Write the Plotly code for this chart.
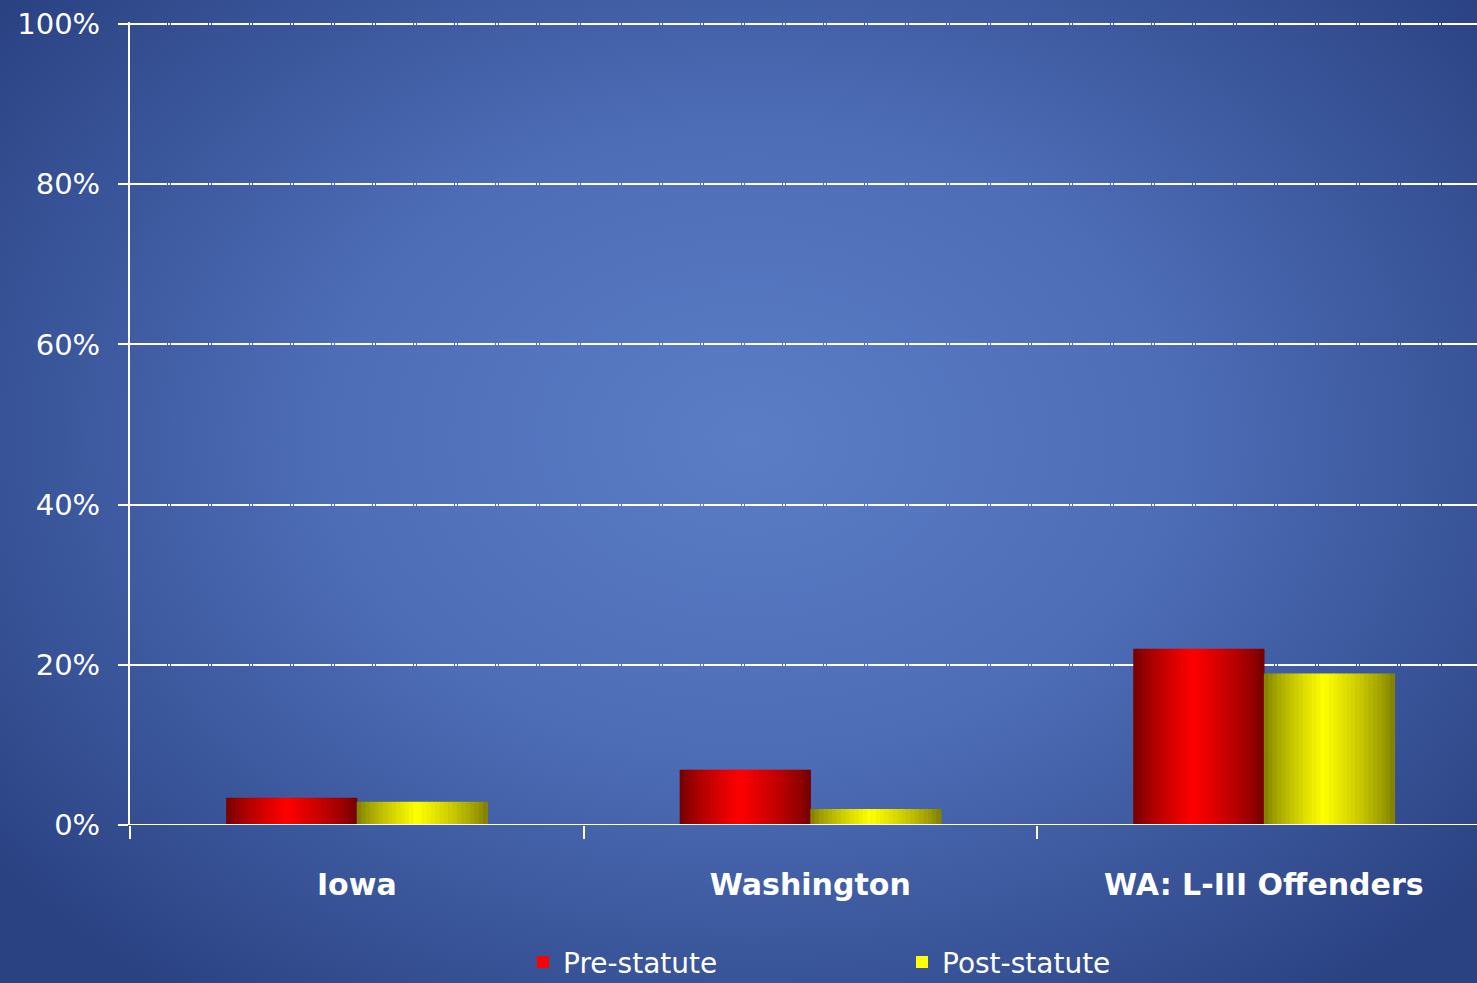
import base64
import plotly.graph_objects as go

# ---- data ----
categories = ["Iowa", "Washington", "WA: L-III Offenders"]
series_names = ["Pre-statute", "Post-statute"]
pre_statute = [0.034, 0.069, 0.220]
post_statute = [0.029, 0.020, 0.189]
y_ticks = [0, 0.2, 0.4, 0.6, 0.8, 1.0]
y_tick_labels = ["0%", "20%", "40%", "60%", "80%", "100%"]

W, H = 1477, 983
ML, MR, MT, MB = 130, 0, 22, 158
FONT = "DejaVu Sans, sans-serif"

def shade(bright, dark, t):
    peak = 0.46
    f = t / peak if t <= peak else (1 - t) / (1 - peak)
    f = f ** 0.75
    return "rgb(%d,%d,%d)" % tuple(int(round(d + (b - d) * f)) for b, d in zip(bright, dark))

palettes = [((255, 0, 0), (110, 0, 0)), ((255, 255, 0), (122, 122, 0))]
values = [pre_statute, post_statute]

bar_w = 0.288
N = 30
fig = go.Figure()
for s in range(2):
    bright, dark = palettes[s]
    start = -bar_w + s * bar_w
    for k in range(N):
        t = (k + 0.5) / N
        fig.add_trace(go.Bar(
            x=categories, y=values[s],
            width=bar_w / N * 1.15, offset=start + k * bar_w / N,
            marker=dict(color=shade(bright, dark, t), line=dict(width=0)),
            showlegend=False, hoverinfo="skip",
        ))
    fig.add_trace(go.Bar(
        x=[None], y=[None], name=series_names[s],
        marker=dict(color="rgb(%d,%d,%d)" % bright, line=dict(width=0)),
        showlegend=True,
    ))

svg = f'''<svg xmlns="http://www.w3.org/2000/svg" width="{W}" height="{H}" viewBox="0 0 {W} {H}">
<defs><radialGradient id="g" gradientUnits="userSpaceOnUse" cx="0" cy="0" r="1" gradientTransform="matrix(950 0 0 700 750 440)">
<stop offset="0" stop-color="#5b7dc6"/>
<stop offset="0.45" stop-color="#4d6db7"/>
<stop offset="1" stop-color="#2a4282"/>
</radialGradient></defs>
<rect width="{W}" height="{H}" fill="url(#g)"/></svg>'''
uri = "data:image/svg+xml;base64," + base64.b64encode(svg.encode()).decode()

pw, ph = W - ML - MR, H - MT - MB
fig.add_layout_image(dict(
    source=uri, xref="paper", yref="paper",
    x=-ML / pw, y=1 + MT / ph, sizex=W / pw, sizey=H / ph,
    xanchor="left", yanchor="top", sizing="stretch", layer="below",
))

fig.update_layout(
    width=W, height=H,
    margin=dict(l=ML, r=MR, t=MT, b=MB, pad=0, autoexpand=False),
    paper_bgcolor="#2a4282", plot_bgcolor="rgba(0,0,0,0)",
    barmode="overlay",
    font=dict(family=FONT, color="white"),
    showlegend=True,
    legend=dict(
        orientation="h", x=(523 - ML) / pw, xanchor="left", y=-0.171, yanchor="middle",
        font=dict(size=28, color="white", family=FONT),
        bgcolor="rgba(0,0,0,0)", entrywidth=334, itemwidth=30,
    ),
    xaxis=dict(
        range=[-0.5, 2.47], showgrid=False, showline=False,
        ticks="outside", tickson="boundaries", ticklen=13, tickwidth=2, tickcolor="white",
        tickfont=dict(size=30, color="white", family=FONT, weight="bold"), ticklabelstandoff=39,
        zeroline=False,
    ),
    yaxis=dict(
        range=[0, 1.0025], tickvals=y_ticks, ticktext=y_tick_labels,
        showgrid=True, gridcolor="white", gridwidth=2, griddash="37px,1px,2px,1px",
        showline=True, linecolor="white", linewidth=2,
        ticks="outside", ticklen=10, tickwidth=2, tickcolor="white",
        tickfont=dict(size=29, color="white", family=FONT), ticklabelstandoff=12,
        zeroline=False,
    ),
)
fig.add_hline(y=0, line=dict(color="white", width=2))

fig.write_html("out.html", config={"displayModeBar": False},
               post_script="document.body.style.margin='0';document.body.style.overflow='hidden';")
